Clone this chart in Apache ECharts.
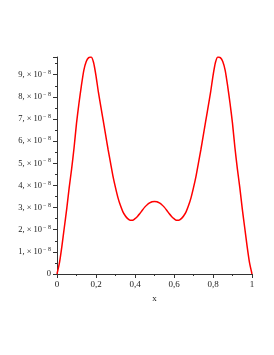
<!DOCTYPE html>
<html>
<head>
<meta charset="utf-8">
<script src="https://cdn.jsdelivr.net/npm/echarts@6/dist/echarts.min.js"></script>
<style>html,body{margin:0;padding:0;background:#fff;}#c{width:274px;height:355px;}</style>
</head>
<body>
<div id="c"></div>
<script>
// x positions and values (in units of 1e-8)
var xs = [0, 0.0125, 0.025, 0.0375, 0.05, 0.0625, 0.075, 0.0875, 0.1, 0.1125, 0.125, 0.1375, 0.15, 0.1625, 0.175, 0.1875,
          0.2, 0.2125, 0.225, 0.2375, 0.25, 0.2625, 0.275, 0.2875, 0.3, 0.3125, 0.325, 0.3375, 0.35, 0.3625, 0.375, 0.3875,
          0.4, 0.4125, 0.425, 0.4375, 0.45, 0.4625, 0.475, 0.4875, 0.5,
          0.5125, 0.525, 0.5375, 0.55, 0.5625, 0.575, 0.5875, 0.6, 0.6125, 0.625, 0.6375, 0.65, 0.6625, 0.675, 0.6875,
          0.7, 0.7125, 0.725, 0.7375, 0.75, 0.7625, 0.775, 0.7875, 0.8, 0.8125, 0.825, 0.8375, 0.85, 0.8625, 0.875, 0.8875,
          0.9, 0.9125, 0.925, 0.9375, 0.95, 0.9625, 0.975, 0.9875, 1];
var ys = [0, 0.5, 1.25, 2.1, 2.95, 3.9, 4.75, 5.7, 6.8, 7.7, 8.5, 9.2, 9.6, 9.77, 9.8, 9.55,
          8.95, 8.2, 7.55, 6.9, 6.25, 5.6, 5.0, 4.4, 3.9, 3.45, 3.1, 2.82, 2.63, 2.5, 2.43, 2.43,
          2.5, 2.6, 2.73, 2.88, 3.02, 3.13, 3.21, 3.26, 3.27,
          3.26, 3.21, 3.13, 3.02, 2.88, 2.73, 2.6, 2.5, 2.43, 2.43, 2.5, 2.63, 2.82, 3.1, 3.45,
          3.9, 4.4, 5.0, 5.6, 6.25, 6.9, 7.55, 8.2, 8.95, 9.55, 9.8, 9.77, 9.6, 9.2, 8.5, 7.7,
          6.8, 5.7, 4.75, 3.9, 2.95, 2.1, 1.25, 0.5, 0];
var scale = 1e-8;
var xTicks = [0, 0.2, 0.4, 0.6, 0.8, 1];
var yTickCount = [0, 1, 2, 3, 4, 5, 6, 7, 8, 9];

var data = xs.map(function (x, i) { return [x, ys[i] * scale]; });
var chart = echarts.init(document.getElementById('c'));
var axisCol = '#333';
chart.setOption({
  animation: false,
  grid: {left: 57, right: 22, top: 57, bottom: 81},
  xAxis: {
    type: 'value', min: 0, max: 1, interval: 0.2,
    name: 'x', nameLocation: 'middle', nameGap: 17,
    nameTextStyle: {fontFamily: 'Liberation Serif', fontSize: 9, color: '#222'},
    axisLine: {show: true, lineStyle: {color: axisCol, width: 1}},
    axisTick: {show: true, length: 4, lineStyle: {color: axisCol}},
    minorTick: {show: true, splitNumber: 2, length: 2, lineStyle: {color: axisCol}},
    splitLine: {show: false},
    axisLabel: {fontFamily: 'Liberation Serif', fontSize: 9, color: '#222', margin: 6,
      formatter: function (v) { return String(Math.round(v * 10) / 10).replace('.', ','); }}
  },
  yAxis: {
    type: 'value', min: 0, max: 9.8e-8, interval: 1e-8,
    axisLine: {show: true, lineStyle: {color: axisCol, width: 1}},
    axisTick: {show: true, length: 4, lineStyle: {color: axisCol}},
    minorTick: {show: true, splitNumber: 2, length: 2, lineStyle: {color: axisCol}},
    splitLine: {show: false},
    axisLabel: {showMaxLabel: false, margin: 6, color: '#222',
      formatter: function (v) {
        var n = Math.round(v / scale);
        if (yTickCount.indexOf(n) < 0 || Math.abs(v / scale - n) > 0.01) return '';
        if (n === 0) return '{a|0}';
        return '{a|' + n + ', \u00d7 10}{s|\u2212 8}';
      },
      rich: {
        a: {fontFamily: 'Liberation Serif', fontSize: 8.5, color: '#222'},
        s: {fontFamily: 'Liberation Serif', fontSize: 6, color: '#222', verticalAlign: 'top', padding: [0, 0, 5, 1]}
      }
    }
  },
  series: [{
    type: 'line', data: data, smooth: 0.2, showSymbol: false,
    lineStyle: {color: '#ff0000', width: 1.5}
  }]
});
</script>
</body>
</html>
